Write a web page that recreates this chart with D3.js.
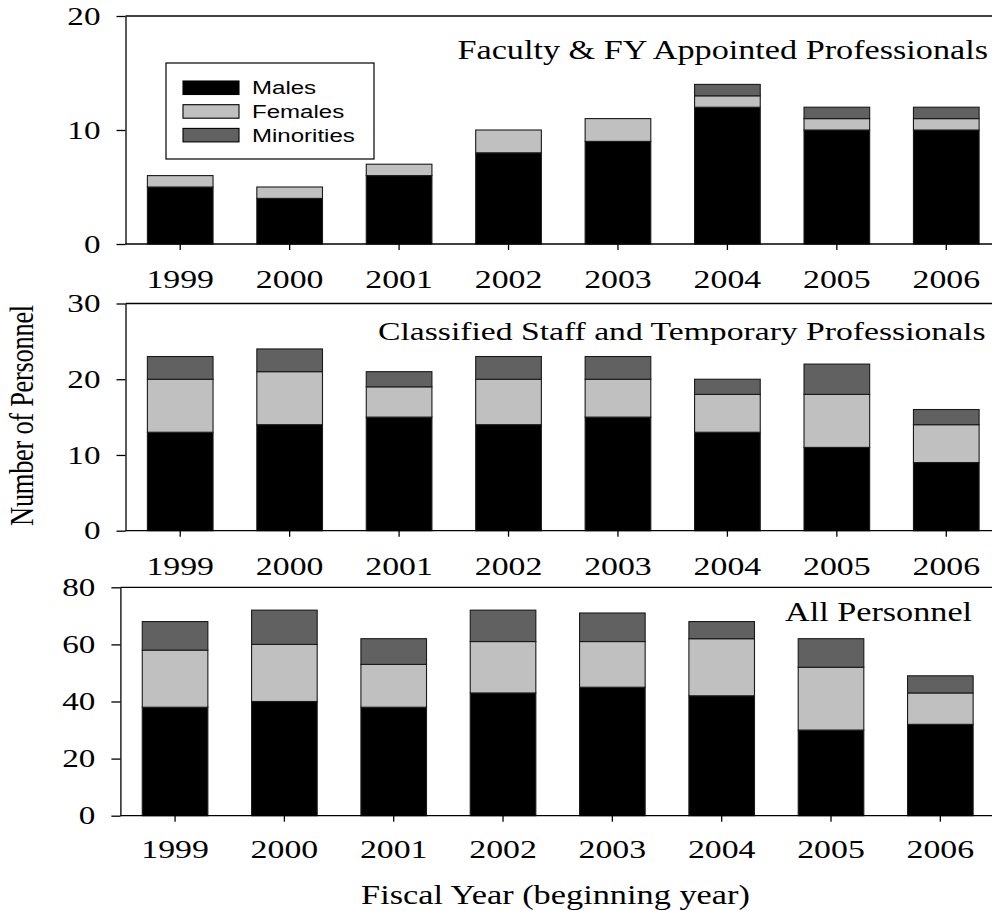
<!DOCTYPE html>
<html>
<head>
<meta charset="utf-8">
<script src="https://cdn.jsdelivr.net/npm/d3@7"></script>
<style>
  body { margin: 0; background: #fff; }
  svg { display: block; }
  text { font-family: "Liberation Serif", "Times New Roman", serif; fill: #000; }
</style>
</head>
<body>
<svg></svg>
<script>
var width = 992;
var height = 911;

// data
var years = ["1999", "2000", "2001", "2002", "2003", "2004", "2005", "2006"];
var seriesNames = ["Males", "Females", "Minorities"];

var facultyMales      = [5, 4, 6, 8, 9, 12, 10, 10];
var facultyFemales    = [1, 1, 1, 2, 2, 1, 1, 1];
var facultyMinorities = [0, 0, 0, 0, 0, 1, 1, 1];

var classifiedMales      = [13, 14, 15, 14, 15, 13, 11, 9];
var classifiedFemales    = [7, 7, 4, 6, 5, 5, 7, 5];
var classifiedMinorities = [3, 3, 2, 3, 3, 2, 4, 2];

var allMales      = [38, 40, 38, 43, 45, 42, 30, 32];
var allFemales    = [20, 20, 15, 18, 16, 20, 22, 11];
var allMinorities = [10, 12, 9, 11, 10, 6, 10, 6];

var facultyTicks = [0, 10, 20];
var classifiedTicks = [0, 10, 20, 30];
var allTicks = [0, 20, 40, 60, 80];

var colors = { Males: "#000000", Females: "#c0c0c0", Minorities: "#616161" };
var sx = 1.3; // the picture is stretched sideways, so is the text

var svg = d3.select("svg")
  .attr("width", width)
  .attr("height", height);

var panels = [
  { title: "Faculty & FY Appointed Professionals", males: facultyMales, females: facultyFemales,
    minorities: facultyMinorities, ticks: facultyTicks, top: 16, bottom: 244, left: 125.5, right: 1001,
    titleX: 988, titleY: 59, anchor: "end", titleSize: 26.3, labelY: 288 },
  { title: "Classified Staff and Temporary Professionals", males: classifiedMales, females: classifiedFemales,
    minorities: classifiedMinorities, ticks: classifiedTicks, top: 303.5, bottom: 530.7, left: 125.5, right: 1001,
    titleX: 378, titleY: 340, anchor: "start", titleSize: 25.9, labelY: 575 },
  { title: "All Personnel", males: allMales, females: allFemales,
    minorities: allMinorities, ticks: allTicks, top: 587.3, bottom: 815.7, left: 120.4, right: 995,
    titleX: 785, titleY: 621, anchor: "start", titleSize: 26.3, labelY: 858 }
];

panels.forEach(function (p) {
  var g = svg.append("g");

  var rows = years.map(function (yr, i) {
    return { year: yr, Males: p.males[i], Females: p.females[i], Minorities: p.minorities[i] };
  });

  var x = d3.scaleBand()
    .domain(years)
    .range([p.left, p.right])
    .paddingInner(0.4)
    .paddingOuter(0.2);

  var y = d3.scaleLinear()
    .domain([0, d3.max(p.ticks)])
    .range([p.bottom, p.top]);

  var stack = d3.stack().keys(seriesNames);
  var layers = stack(rows);

  g.selectAll(".layer")
    .data(layers)
    .enter().append("g")
      .attr("class", "layer")
      .attr("fill", function (d) { return colors[d.key]; })
    .selectAll("rect")
    .data(function (d) { return d; })
    .enter().append("rect")
      .attr("x", function (d) { return x(d.data.year); })
      .attr("width", x.bandwidth())
      .attr("y", function (d) { return y(d[1]); })
      .attr("height", function (d) { return y(d[0]) - y(d[1]); })
      .attr("stroke", "#1a1a1a")
      .attr("stroke-width", 1.1);

  // frame lines top and bottom
  g.append("line")
    .attr("x1", p.left).attr("x2", width + 10)
    .attr("y1", y(d3.max(p.ticks))).attr("y2", y(d3.max(p.ticks)))
    .attr("stroke", "#000").attr("stroke-width", 1.3);
  g.append("line")
    .attr("x1", p.left).attr("x2", width + 10)
    .attr("y1", y(0)).attr("y2", y(0))
    .attr("stroke", "#000").attr("stroke-width", 1.3);

  // left axis
  var yAxis = g.append("g")
    .attr("transform", "translate(" + p.left + ",0)")
    .call(d3.axisLeft(y).tickValues(p.ticks).tickSize(9).tickSizeOuter(0));
  yAxis.select(".domain").attr("stroke-width", 1.3);
  yAxis.selectAll(".tick line").attr("stroke-width", 1.3);
  yAxis.selectAll(".tick text")
    .attr("x", -25 / sx)
    .attr("transform", "scale(" + sx + ",1)")
    .style("font-family", "Liberation Serif, serif")
    .style("font-size", "25.5px");

  // bottom axis
  var xAxis = g.append("g")
    .attr("transform", "translate(0," + y(0) + ")")
    .call(d3.axisBottom(x).tickSize(6).tickSizeOuter(0));
  xAxis.select(".domain").remove();
  xAxis.selectAll(".tick line").attr("stroke-width", 1.3);
  xAxis.selectAll(".tick text")
    .attr("y", p.labelY - y(0))
    .attr("dy", 0)
    .attr("transform", "scale(" + sx + ",1)")
    .style("font-family", "Liberation Serif, serif")
    .style("font-size", "26px");

  // panel title
  g.append("text")
    .attr("transform", "translate(" + p.titleX + "," + p.titleY + ") scale(" + sx + ",1)")
    .attr("text-anchor", p.anchor)
    .style("font-size", p.titleSize + "px")
    .text(p.title);
});

// legend
var legend = svg.append("g").attr("class", "legend");
legend.append("rect")
  .attr("x", 166).attr("y", 63)
  .attr("width", 208).attr("height", 96)
  .attr("fill", "#fff")
  .attr("stroke", "#000").attr("stroke-width", 1.2);

var item = legend.selectAll(".item")
  .data(seriesNames)
  .enter().append("g")
    .attr("class", "item")
    .attr("transform", function (d, i) { return "translate(183," + (81 + 23.7 * i) + ")"; });

item.append("rect")
  .attr("width", 56).attr("height", 13.5)
  .attr("fill", function (d) { return colors[d]; })
  .attr("stroke", "#000").attr("stroke-width", 1.1);

item.append("text")
  .attr("transform", "translate(69,13.3) scale(" + sx + ",1)")
  .style("font-family", "Liberation Sans, Arial, sans-serif")
  .style("font-size", "18.5px")
  .text(function (d) { return d; });

// axis titles
svg.append("text")
  .attr("transform", "translate(33,415.5) rotate(-90) scale(1," + sx + ")")
  .attr("text-anchor", "middle")
  .style("font-size", "26.5px")
  .style("letter-spacing", "-0.3px")
  .text("Number of Personnel");

svg.append("text")
  .attr("transform", "translate(555.5,904) scale(" + sx + ",1)")
  .attr("text-anchor", "middle")
  .style("font-size", "26.4px")
  .text("Fiscal Year (beginning year)");
</script>
</body>
</html>
